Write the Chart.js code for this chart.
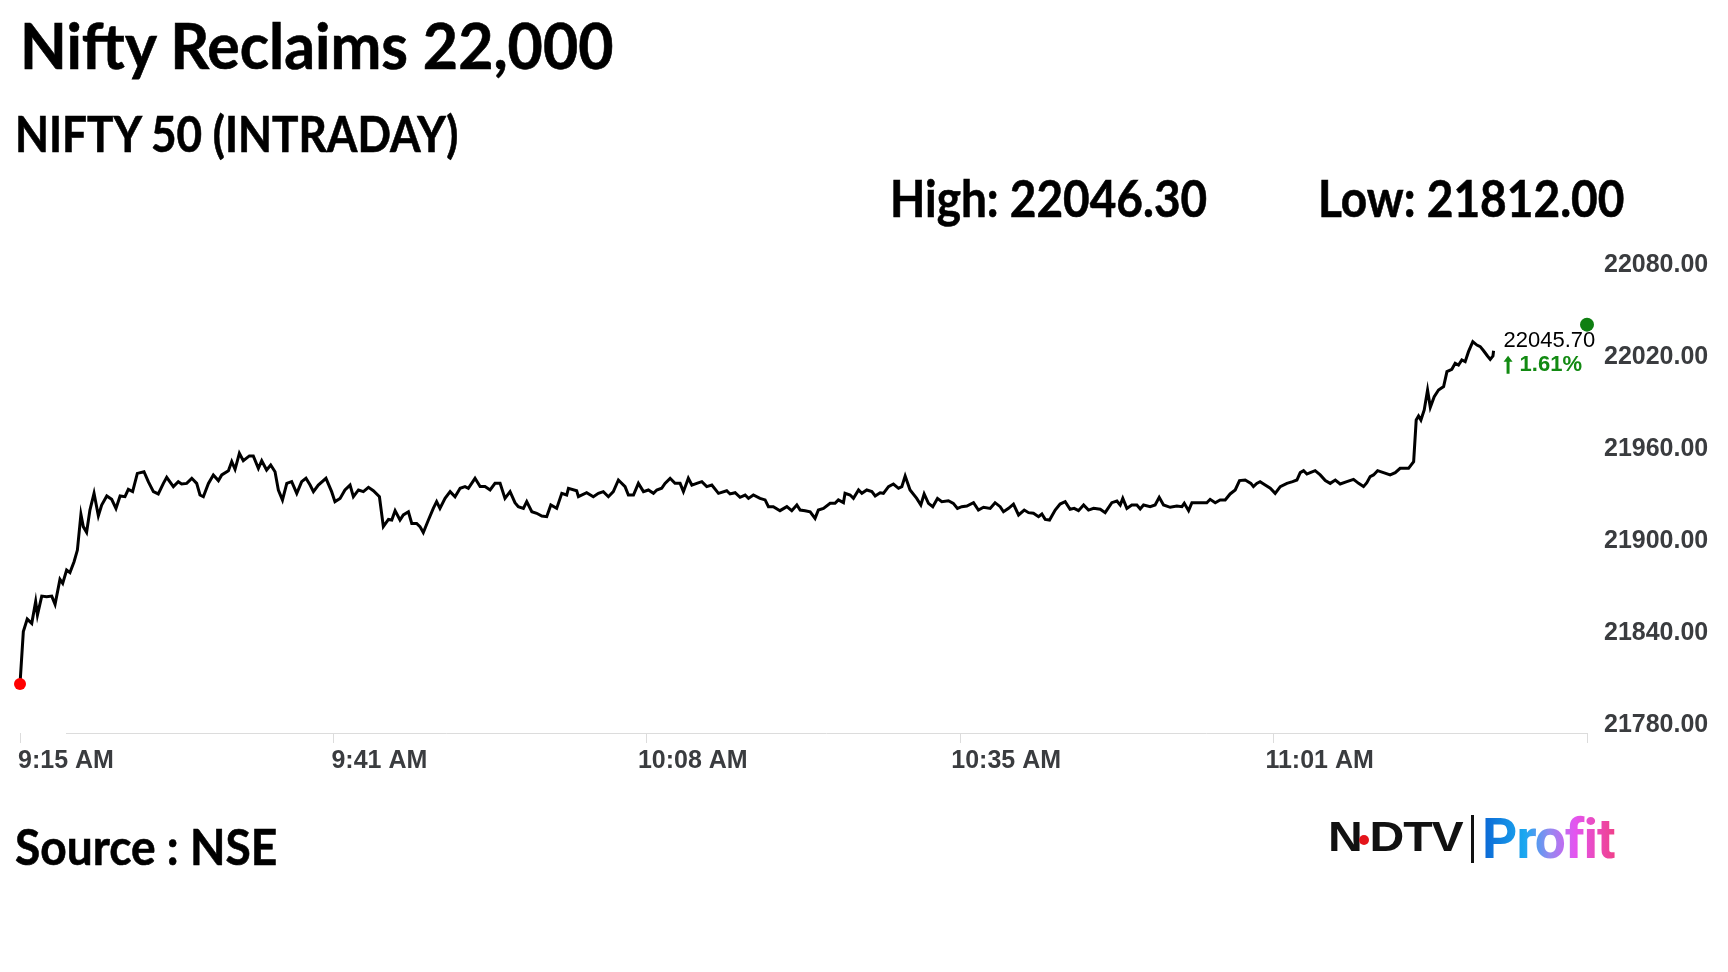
<!DOCTYPE html>
<html>
<head>
<meta charset="utf-8">
<script src="https://cdn.jsdelivr.net/npm/chart.js@4.4.1/dist/chart.umd.min.js"></script>
<style>
    body { margin: 0; background: #fff; width: 1728px; height: 972px; overflow: hidden; position: relative; }
    canvas { position: absolute; left: 0; top: 0; }
    .txt { position: absolute; white-space: nowrap; font-family: Lato, sans-serif; font-weight: 700; line-height: 1; color: #000;
        transform-origin: 0 0; -webkit-text-stroke: 0.6px #000; }
    #title { left: 20px; top: 13px; font-size: 64px; transform: scaleX(0.95); }
    #subtitle { left: 15px; top: 109px; font-size: 49px; transform: scaleX(0.9); }
    #high { left: 890px; top: 171px; font-size: 52px; transform: scaleX(0.883); }
    #low { left: 1318px; top: 171px; font-size: 52px; transform: scaleX(0.885); }
    #source { left: 15px; top: 821px; font-size: 50px; transform: scaleX(0.922); }
    #ndtv { position: absolute; left: 1328px; top: 815px; font: 700 43px "Liberation Sans", Arial, sans-serif; line-height: 1; color: #111;
        transform-origin: 0 0; transform: scaleX(1.12); letter-spacing: -1px; white-space: nowrap; }
    #ndtv .gap { display: inline-block; width: 7px; }
    #ndtv-dot { position: absolute; left: 1359px; top: 835px; width: 10px; height: 10px; border-radius: 50%; background: #e4141b; }
    #divider { position: absolute; left: 1471px; top: 815px; width: 3px; height: 48px; background: #111; }
    #profit { position: absolute; left: 1482px; top: 812px; font: 700 55px Roboto, sans-serif; line-height: 1; letter-spacing: -1px;
        background: linear-gradient(90deg, #0c66d4 0%, #1aa8f0 32%, #8f8cf0 50%, #e455f0 70%, #f0408a 100%);
        -webkit-background-clip: text; background-clip: text; color: transparent; }
</style>
</head>
<body>
<canvas id="chart" width="1728" height="972"></canvas>
<div class="txt" id="title">Nifty Reclaims 22,000</div>
<div class="txt" id="subtitle">NIFTY 50 (INTRADAY)</div>
<div class="txt" id="high">High: 22046.30</div>
<div class="txt" id="low">Low: 21812.00</div>
<div class="txt" id="source">Source : NSE</div>
<div id="ndtv">N<span class="gap"></span>DTV</div>
<div id="ndtv-dot"></div>
<div id="divider"></div>
<div id="profit">Profit</div>

<script>
// Seconds after 9:15 AM
const secondsFrom915 = [
    0, 17, 37, 60, 80, 89, 111, 136, 162, 179, 204, 218, 238, 255, 276, 293, 311, 323, 340, 357,
    378, 400, 417, 443, 468, 490, 511, 536, 553, 575, 599, 633, 655, 681, 706, 732, 749, 783, 808, 825,
    851, 877, 902, 919, 936, 962, 987, 1013, 1030, 1064, 1081, 1098, 1120, 1140, 1171, 1191, 1217, 1234, 1259, 1280,
    1302, 1319, 1340, 1362, 1387, 1413, 1438, 1460, 1481, 1498, 1523, 1562, 1591, 1608, 1634, 1659, 1685, 1702, 1728, 1753,
    1779, 1804, 1835, 1855, 1881, 1898, 1915, 1940, 1957, 1983, 2000, 2025, 2042, 2059, 2085, 2110, 2127, 2144, 2170, 2196,
    2221, 2247, 2272, 2289, 2323, 2349, 2374, 2400, 2425, 2451, 2476, 2502, 2527, 2544,
    2570, 2587, 2613, 2638, 2664, 2689, 2710, 2740, 2766, 2791, 2800, 2842, 2851, 2893, 2927, 2953, 2978, 3004, 3029, 3055,
    3089, 3106, 3132, 3157, 3183, 3208, 3234, 3251, 3276, 3293, 3319, 3344, 3370, 3387, 3412, 3430, 3455, 3481, 3506, 3532,
    3566, 3608, 3625, 3651, 3676, 3702, 3719, 3744, 3778, 3804, 3821, 3846, 3880, 3915, 3940, 3966, 3983, 4008, 4034, 4059,
    4076, 4102, 4136, 4161, 4178, 4204, 4212, 4238, 4255, 4281, 4298, 4323, 4349, 4366, 4391, 4408, 4434, 4459, 4485, 4502,
    4519, 4544, 4578, 4599, 4616, 4638, 4660, 4684, 4706, 4740, 4765, 4786, 4808, 4834, 4868, 4893, 4919, 4953, 4978, 5004,
    5021, 5047, 5072, 5098,
    5127, 5149, 5174, 5200, 5217, 5234, 5256, 5285, 5310, 5336, 5361, 5382, 5404, 5430, 5455, 5481, 5515, 5540, 5574, 5600,
    5617, 5630, 5651, 5676, 5702, 5719, 5736, 5770, 5795, 5816, 5838, 5872, 5906, 5932, 5944, 5966, 5983, 6025, 6059, 6076,
    6102, 6127, 6153, 6178, 6204, 6226, 6255, 6284, 6297, 6314, 6331, 6357, 6383, 6408, 6434, 6468, 6497, 6519, 6536, 6553,
    6570, 6587, 6612, 6638, 6664, 6689, 6715, 6740, 6774, 6808, 6834, 6859, 6876, 6893, 6910, 6931, 6961, 6995, 7021, 7046,
    7063, 7089, 7115, 7128, 7140, 7152, 7169, 7186, 7200, 7220, 7242, 7268, 7285, 7310, 7327, 7344, 7361, 7378, 7395, 7417,
    7438, 7455, 7472, 7492, 7506, 7520, 7523
];

const niftyPrices = [
    21812.0, 21846.1, 21854.3, 21851.5, 21865.7, 21857.0, 21869.3, 21868.9, 21869.3, 21863.9, 21880.2, 21877.6, 21886.3, 21884.6, 21891.7, 21899.3, 21922.6, 21914.6, 21910.9, 21925.4,
    21936.3, 21921.7, 21928.7, 21934.6, 21932.4, 21926.5, 21934.6, 21934.1, 21938.9, 21937.4, 21949.3, 21950.4, 21943.9, 21937.4, 21935.9, 21942.8, 21946.7, 21940.7, 21943.9, 21942.4,
    21942.8, 21946.1, 21942.8, 21935.2, 21934.1, 21942.8, 21948.3, 21944.6, 21948.3, 21951.1, 21957.0, 21952.0, 21962.4, 21957.6, 21960.7, 21960.7, 21952.6, 21957.6, 21951.5, 21954.8,
    21950.4, 21938.5, 21932.0, 21942.8, 21943.9, 21936.3, 21943.9, 21946.1, 21941.7, 21937.4, 21941.7, 21946.1, 21937.4, 21930.9, 21933.0, 21938.5, 21941.7, 21934.1, 21938.5, 21937.4,
    21940.2, 21938.0, 21934.1, 21914.6, 21919.3, 21918.9, 21925.0, 21918.9, 21922.2, 21924.3, 21916.7, 21916.7, 21914.6, 21910.7, 21918.9, 21926.5, 21930.9, 21926.5, 21933.0, 21937.4,
    21934.1, 21939.6, 21940.7, 21939.6, 21946.1, 21940.7, 21940.7, 21938.5, 21942.8, 21942.8, 21933.0, 21937.4, 21930.2, 21927.6,
    21926.5, 21930.9, 21924.3, 21923.3, 21921.5, 21921.1, 21928.7, 21926.5, 21936.3, 21935.2, 21939.6, 21938.0, 21934.1, 21936.7, 21934.1, 21936.3, 21937.4, 21934.1, 21937.4, 21945.0,
    21940.7, 21935.2, 21935.2, 21942.8, 21937.4, 21938.5, 21936.3, 21938.5, 21939.6, 21942.8, 21946.1, 21942.8, 21942.8, 21937.4, 21946.1, 21941.7, 21942.8, 21943.9, 21940.7, 21941.7,
    21936.3, 21938.0, 21935.9, 21936.7, 21933.7, 21935.2, 21933.0, 21935.2, 21933.0, 21932.0, 21927.6, 21927.6, 21925.0, 21927.6, 21925.0, 21928.7, 21925.4, 21925.0, 21924.3, 21920.0,
    21925.4, 21926.5, 21929.8, 21929.8, 21932.0, 21930.2, 21936.3, 21935.2, 21933.0, 21938.5, 21936.3, 21938.5, 21937.4, 21934.6, 21936.7, 21936.3, 21940.7, 21942.4, 21939.6, 21940.7,
    21947.6, 21938.5, 21933.0, 21928.7, 21935.9, 21929.8, 21927.6, 21933.0, 21930.9, 21931.5, 21929.8, 21926.5, 21927.6, 21928.0, 21930.2, 21925.4, 21927.2, 21926.5, 21930.2, 21927.6,
    21924.3, 21926.5, 21929.3, 21922.2,
    21925.4, 21923.7, 21923.3, 21921.1, 21922.8, 21919.3, 21918.9, 21925.4, 21929.3, 21930.9, 21925.9, 21926.5, 21925.0, 21928.7, 21925.4, 21926.5, 21925.9, 21923.7, 21930.2, 21931.3,
    21928.7, 21933.0, 21926.5, 21928.7, 21928.7, 21926.1, 21928.7, 21927.6, 21928.7, 21933.7, 21928.7, 21927.2, 21928.0, 21927.6, 21929.8, 21925.0, 21930.2, 21930.2, 21930.2, 21932.4,
    21930.2, 21932.0, 21932.0, 21935.9, 21938.5, 21944.6, 21945.0, 21942.8, 21940.7, 21942.8, 21943.9, 21941.7, 21939.6, 21936.3, 21940.7, 21942.8, 21943.9, 21945.0, 21949.8, 21951.1,
    21948.9, 21949.8, 21951.1, 21948.3, 21944.6, 21942.8, 21945.0, 21942.4, 21943.9, 21945.4, 21942.8, 21940.7, 21943.3, 21947.2, 21948.3, 21951.1, 21949.8, 21948.3, 21949.8, 21952.6,
    21952.6, 21952.6, 21957.0, 21984.1, 21986.7, 21984.1, 21990.7, 22003.7, 21992.4, 21999.3, 22003.7, 22005.9, 22015.7, 22017.2, 22021.1, 22020.0, 22023.3, 22022.2, 22028.7, 22035.2,
    22033.0, 22032.0, 22029.3, 22025.9, 22023.7, 22025.9, 22029.3
];

// x ticks every 1600 s (80 slots of 20 s), axis ends at 8000 s
const timeTickLabels = ['9:15 AM', '9:41 AM', '10:08 AM', '10:35 AM', '11:01 AM'];
const axisEndSeconds = 8000;
const tickStepSeconds = 1600;
const priceTicks = [21780, 21840, 21900, 21960, 22020, 22080];

const dayHigh = 22046.30;
const lastPrice = 22045.70;
const changePct = 1.61;

const lineData = secondsFrom915.map((s, i) => ({ x: s, y: niftyPrices[i] }));

const tickFont = { family: "'Liberation Sans', Arial, sans-serif", size: 25, weight: 'bold' };
const axisGrey = '#dcdcdc';

// x axis line starts a bit right of the first tick, like the original
const axisLine = {
    id: 'axisLine',
    beforeDatasetsDraw(chart) {
        const { ctx, chartArea } = chart;
        ctx.save();
        ctx.strokeStyle = axisGrey;
        ctx.lineWidth = 1;
        ctx.beginPath();
        ctx.moveTo(chartArea.left + 46, chartArea.bottom + 0.5);
        ctx.lineTo(chartArea.right, chartArea.bottom + 0.5);
        ctx.stroke();
        ctx.restore();
    }
};

// label with last price and change, next to line end
const lastValueLabel = {
    id: 'lastValueLabel',
    afterDatasetsDraw(chart) {
        const meta = chart.getDatasetMeta(0);
        const pt = meta.data[meta.data.length - 1];
        const ctx = chart.ctx;
        const x = pt.x + 10;
        ctx.save();
        ctx.textAlign = 'left';
        ctx.textBaseline = 'middle';
        ctx.font = "22px 'Liberation Sans', Arial, sans-serif";
        ctx.fillStyle = '#000';
        ctx.fillText(lastPrice.toFixed(2), x, pt.y - 10);

        // up arrow
        const green = '#128a12';
        ctx.fillStyle = green;
        ctx.beginPath();
        ctx.moveTo(x + 4.5, pt.y + 5);
        ctx.lineTo(x + 9, pt.y + 11);
        ctx.lineTo(x + 6, pt.y + 11);
        ctx.lineTo(x + 6, pt.y + 23);
        ctx.lineTo(x + 3, pt.y + 23);
        ctx.lineTo(x + 3, pt.y + 11);
        ctx.lineTo(x, pt.y + 11);
        ctx.closePath();
        ctx.fill();

        ctx.font = "bold 22px 'Liberation Sans', Arial, sans-serif";
        ctx.fillText(changePct.toFixed(2) + '%', x + 16, pt.y + 14);
        ctx.restore();
    }
};

new Chart(document.getElementById('chart'), {
    type: 'line',
    data: {
        datasets: [{
            data: lineData,
            borderColor: '#000',
            borderWidth: 3,
            tension: 0,
            pointRadius: (c) => c.dataIndex === 0 ? 6 : 0,
            pointBackgroundColor: '#ff0000',
            pointBorderWidth: 0,
            clip: false
        }, {
            data: [{ x: axisEndSeconds, y: dayHigh }],
            showLine: false,
            pointRadius: 7,
            pointBackgroundColor: '#0f7f12',
            pointBorderWidth: 0,
            clip: false
        }]
    },
    options: {
        responsive: false,
        animation: false,
        devicePixelRatio: 1,
        layout: { padding: { top: 273, left: 20, right: 0, bottom: 0 } },
        plugins: { legend: { display: false }, tooltip: { enabled: false } },
        scales: {
            x: {
                type: 'linear',
                min: 0,
                max: axisEndSeconds,
                afterFit: (s) => { s.height = 972 - 733; s.paddingLeft = 0; s.paddingRight = 0; },
                afterBuildTicks: (s) => {
                    s.ticks = [];
                    for (let v = 0; v <= axisEndSeconds; v += tickStepSeconds) s.ticks.push({ value: v });
                },
                grid: { drawOnChartArea: false, drawTicks: true, tickLength: 10, color: axisGrey },
                border: { display: false },
                ticks: {
                    autoSkip: false,
                    maxRotation: 0,
                    align: 'center',
                    labelOffset: 46,
                    padding: 3,
                    color: '#3a3c3f',
                    font: tickFont,
                    callback: (v, i) => timeTickLabels[i] || ''
                }
            },
            y: {
                position: 'right',
                min: priceTicks[0],
                max: priceTicks[priceTicks.length - 1],
                afterFit: (s) => { s.width = 1728 - 1587; },
                afterBuildTicks: (s) => { s.ticks = priceTicks.map(v => ({ value: v })); },
                grid: { display: false, drawTicks: false },
                border: { display: false },
                ticks: {
                    padding: 17,
                    labelOffset: -8,
                    color: '#3a3c3f',
                    font: tickFont,
                    callback: (v) => Number(v).toFixed(2)
                }
            }
        }
    },
    plugins: [axisLine, lastValueLabel]
});
</script>
</body>
</html>
